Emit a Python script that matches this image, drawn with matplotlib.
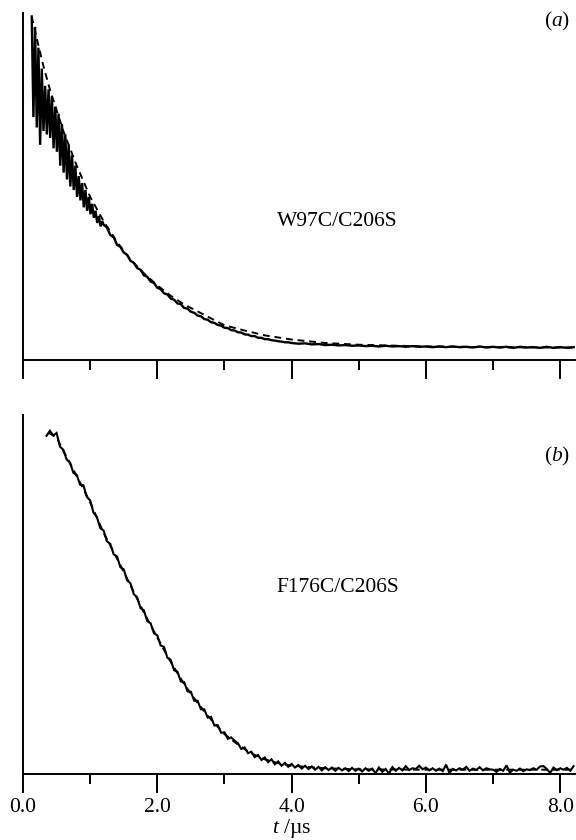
"""
plot.py
=======
Decaimiento de fluorescencia de los mutantes W97C/C206S (a) y
F176C/C206S (b): traza medida (línea continua) y ajuste (línea de trazos).
"""

import numpy as np
import matplotlib
matplotlib.use('Agg')
import matplotlib.pyplot as plt
from matplotlib.ticker import MultipleLocator

# ── Estilo ────────────────────────────────────────────────────────────────────
plt.rcParams.update({
    'font.family': 'Liberation Serif',
    'font.size': 15.5,
    'mathtext.fontset': 'custom',
    'mathtext.rm': 'Liberation Serif',
    'mathtext.it': 'Liberation Serif:italic',
    'axes.linewidth': 1.4,
    'lines.linewidth': 1.3,
    'lines.solid_joinstyle': 'miter',
})

# ── Datos (intensidad en % de la altura del panel) ────────────────────────────
# Panel (a): traza W97C/C206S en tres tramos de muestreo
a_early_t0, a_early_dt = 0.13, 0.025
a_early = [99, 70, 96, 67, 90, 62, 84, 66, 79, 65, 78, 64, 76, 61, 73, 60,
           71, 56, 68, 54, 65, 52, 62, 50, 59, 49, 56, 47, 53, 46, 51, 44,
           49, 43, 47, 42, 45, 41, 43, 39.5, 41.5, 38.5, 40]
a_mid_t0, a_mid_dt = 1.20, 0.05
a_mid = [39.0, 38.2, 36.0, 35.4, 33.2, 32.6, 31.0, 30.3, 28.6, 28.0, 26.5,
         26.0, 24.4, 24.0, 22.6, 22.2, 20.8, 20.4, 19.2, 18.9, 17.7, 17.4,
         16.3, 16.1, 15.0, 14.8, 13.9, 13.6, 12.8, 12.6, 11.8, 11.6, 10.9,
         10.7, 10.1, 9.9, 9.3, 9.2, 8.6, 8.5, 8.0, 7.9, 7.4, 7.3, 6.9, 6.9,
         6.4, 6.4, 6.0, 6.0, 5.7, 5.6, 5.4, 5.3, 5.1, 5.1, 4.9]
a_tail_t0, a_tail_dt = 4.10, 0.10
a_tail = [4.7, 4.8, 4.5, 4.6, 4.3, 4.4, 4.2, 4.3, 4.1, 4.2, 4.0, 4.1, 3.9,
          4.1, 3.9, 4.0, 3.8, 4.0, 3.8, 3.9, 3.7, 3.9, 3.7, 3.9, 3.7, 3.8,
          3.6, 3.9, 3.6, 3.8, 3.6, 3.8, 3.5, 3.8, 3.6, 3.7, 3.5, 3.8, 3.5,
          3.7, 3.5, 3.7]

# Panel (a): ajuste
a_fit_t = [0.13, 0.2, 0.3, 0.4, 0.5, 0.6, 0.7, 0.8, 0.9, 1.0, 1.2, 1.4, 1.6,
           1.8, 2.0, 2.2, 2.4, 2.6, 2.8, 3.0, 3.3, 3.6, 4.0, 4.5, 5.0, 6.0,
           7.0, 8.2]
a_fit = [99, 93, 85, 78, 72, 66, 61, 56, 51.5, 47, 40, 34, 29, 25, 21.5,
         18.5, 16, 14, 12, 10.0, 8.5, 7.1, 5.9, 4.9, 4.4, 3.9, 3.7, 3.6]

# Panel (b): traza F176C/C206S
b_t0, b_dt = 0.35, 0.05
b_trace = [94.2, 95.6, 94.3, 95.0, 91.2, 90.3, 87.6, 86.8, 83.9, 83.3, 80.6,
           80.4, 77.2, 76.2, 72.8, 71.6, 68.5, 67.8, 64.8, 64.1, 61.2, 60.6,
           57.6, 57.0, 54.0, 53.1, 50.1, 49.2, 46.2, 45.6, 42.6, 42.0, 39.2,
           38.6, 35.8, 35.4, 32.4, 31.8, 28.9, 28.5, 25.8, 25.6, 23.0, 22.9,
           20.4, 20.4, 18.0, 18.0, 15.7, 15.9, 13.5, 13.6, 11.5, 11.6, 9.8,
           10.2, 9.3, 8.6, 7.0, 7.4, 5.8, 6.2, 4.7, 5.3, 3.9, 4.6, 3.3, 4.1,
           2.7, 3.5, 2.3, 3.1, 2.0, 2.8, 1.8, 2.5, 1.5, 2.3, 1.4, 2.1, 1.2,
           2.0, 1.0, 1.9, 1.1, 1.8, 0.9, 1.7, 1.0, 1.6, 0.8, 1.7, 0.9, 1.5,
           0.7, 1.6, 0.9, 1.5, 0.2, 1.8, 0.6, 1.4, 0.1, 1.9, 0.9, 1.7, 1.0,
           2.2, 1.1, 1.6, 1.4, 2.3, 1.3, 1.8, 1.0, 1.6, 0.9, 1.5, 0.8, 2.6,
           0.3, 1.4, 1.0, 1.6, 1.2, 2.0, 0.9, 1.5, 1.1, 1.9, 1.0, 1.6, 1.3,
           1.2, 0.6, 1.4, 0.9, 2.4, 0.4, 1.2, 0.9, 1.5, 0.8, 1.3, 1.1, 1.6,
           1.2, 2.1, 2.2, 1.4, 0.3, 1.8, 1.1, 1.6, 1.2, 1.7, 0.9, 2.2]

# Panel (b): ajuste
b_fit_t = [0.38, 0.5, 0.6, 0.8, 1.0, 1.2, 1.4, 1.6, 1.8, 2.0, 2.2, 2.4, 2.6,
           2.8, 3.0, 3.2, 3.4, 3.6, 3.8, 4.0, 4.5, 5.0, 6.0, 8.2]
b_fit = [95.0, 93.8, 90.0, 83.0, 75.7, 67.2, 60.0, 52.6, 45.0, 38.0, 31.2,
         25.0, 19.8, 15.2, 11.1, 8.2, 5.7, 4.1, 3.0, 2.3, 1.6, 1.3, 1.2, 1.2]

labels = ['W97C/C206S', 'F176C/C206S']
panel_tags = ['($a$)', '($b$)']
tick_labels = ['0.0', '2.0', '4.0', '6.0', '8.0']

T_MAX = 8.22


def sampled(t0, dt, values):
    return t0 + dt * np.arange(len(values)), np.asarray(values, float)


ta1, ya1 = sampled(a_early_t0, a_early_dt, a_early)
ta2, ya2 = sampled(a_mid_t0, a_mid_dt, a_mid)
ta3, ya3 = sampled(a_tail_t0, a_tail_dt, a_tail)
t_a = np.concatenate([ta1, ta2, ta3])
y_a = np.concatenate([ya1, ya2, ya3])
t_b, y_b = sampled(b_t0, b_dt, b_trace)

# ── Figura ────────────────────────────────────────────────────────────────────
W, H = 576, 840
fig = plt.figure(figsize=(W / 100, H / 100), dpi=100)
left, right = 23 / W, 575 / W
ax_a = fig.add_axes([left, 1 - 360 / H, right - left, 347 / H])
ax_b = fig.add_axes([left, 1 - 774 / H, right - left, 359 / H])

DASH = (0, (3.5, 2.5))
ax_a.plot(a_fit_t, a_fit, color='black', linestyle=DASH, linewidth=1.4)
ax_a.plot(t_a, y_a, color='black', linewidth=1.7)

ax_b.plot(b_fit_t, b_fit, color='black', linestyle=DASH, linewidth=1.4)
ax_b.plot(t_b, y_b, color='black', linewidth=1.5)

for ax, label, tag, ylab, ytag in [
    (ax_a, labels[0], panel_tags[0], 0.40, 0.975),
    (ax_b, labels[1], panel_tags[1], 0.52, 0.885),
]:
    ax.set_xlim(0, T_MAX)
    ax.set_ylim(0, 100)
    ax.spines['top'].set_visible(False)
    ax.spines['right'].set_visible(False)
    ax.set_yticks([])
    ax.xaxis.set_major_locator(MultipleLocator(2.0))
    ax.xaxis.set_minor_locator(MultipleLocator(1.0))
    ax.tick_params(axis='x', which='major', direction='out', length=13.5,
                   width=1.4, pad=4)
    ax.tick_params(axis='x', which='minor', direction='out', length=7,
                   width=1.4)
    ax.text(0.57, ylab, label, transform=ax.transAxes, ha='center',
            va='center')
    ax.text(0.967, ytag, tag, transform=ax.transAxes, ha='center',
            va='center')

ax_a.tick_params(axis='x', labelbottom=False)
ax_b.set_xticks([0.0, 2.0, 4.0, 6.0, 8.0])
ax_b.set_xticklabels(tick_labels)

fig.text(292 / W, 1 - 829 / H, '$t$ /\u00b5s', ha='center', va='center')

fig.savefig('out.png', dpi=100)
